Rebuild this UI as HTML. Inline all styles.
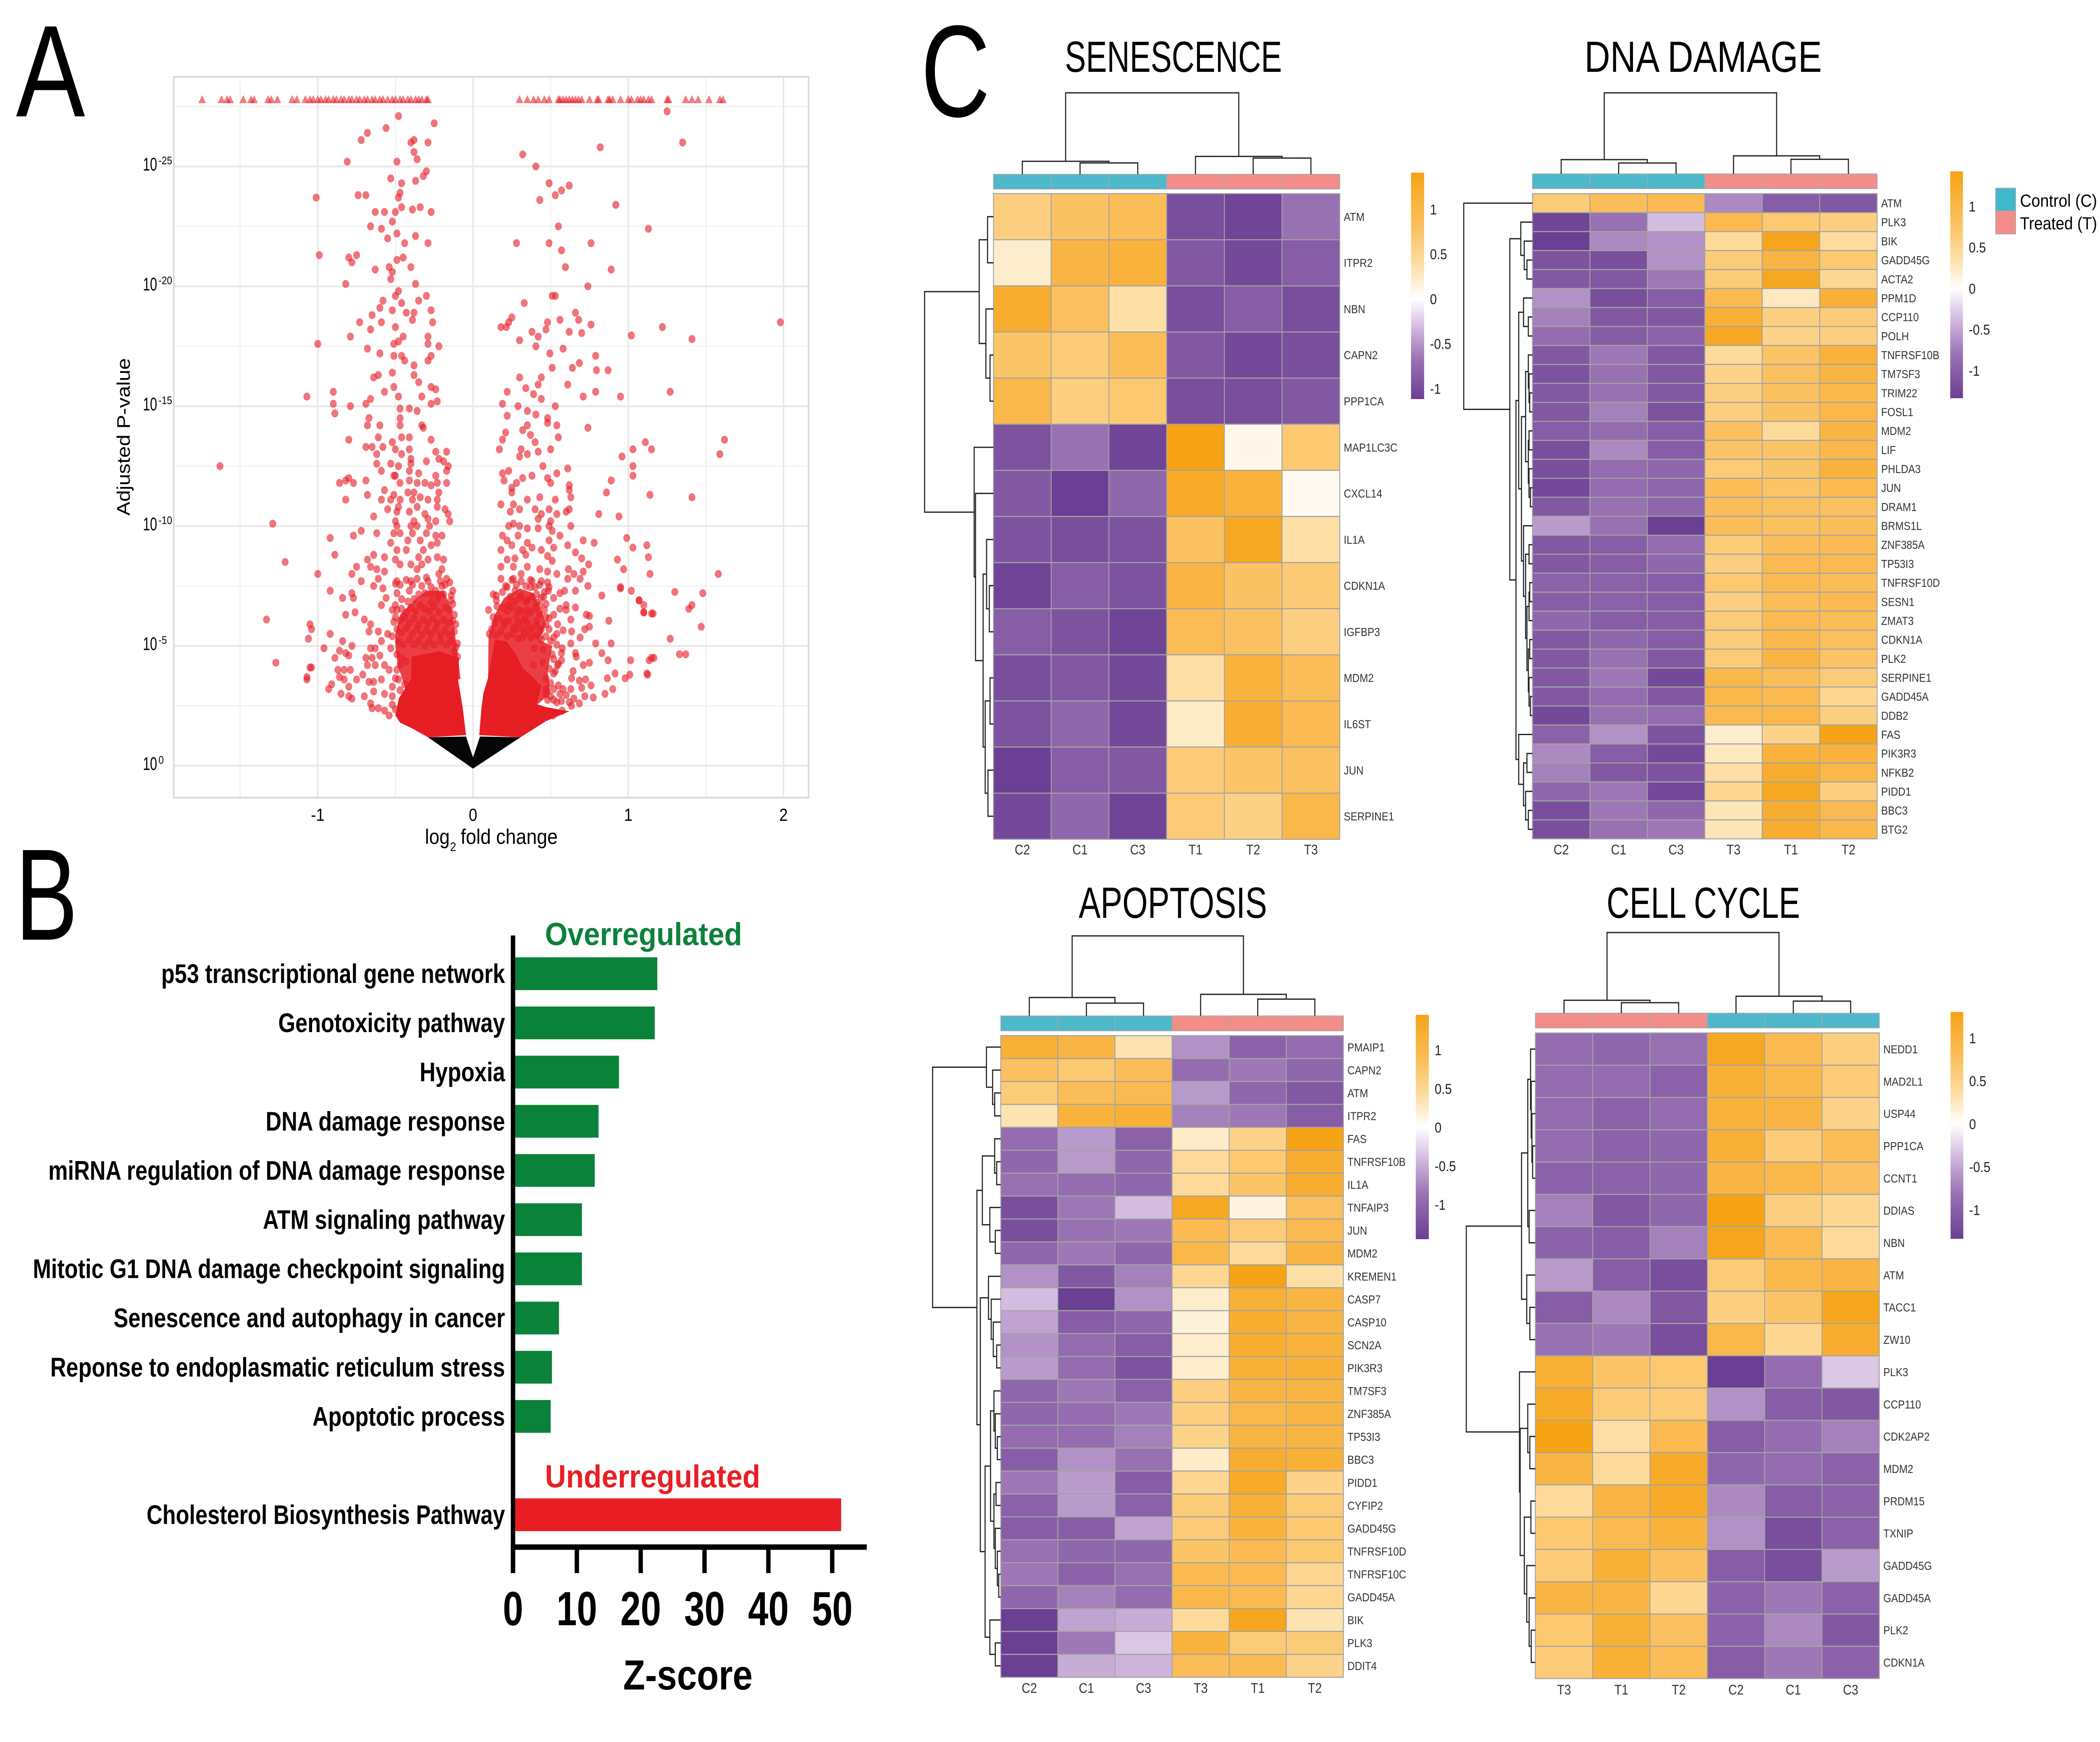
<!DOCTYPE html>
<html lang="en">
<head>
<meta charset="utf-8">
<title>Volcano plot, pathway Z-scores and gene heatmaps</title>
<style>
html,body{margin:0;padding:0;background:#fff;width:100%;height:100%;overflow:hidden}
svg#figure{display:block;width:100vw;height:100vh}
text{font-family:"Liberation Sans",sans-serif;fill:#000}
</style>
</head>
<body>
<svg id="figure" viewBox="0 0 5776 4147" preserveAspectRatio="none">
  <rect width="5776" height="4147" fill="#fff"/>
  <text x="44" y="277" font-size="311" textLength="190" lengthAdjust="spacingAndGlyphs">A</text>
  <text x="42" y="2237" font-size="310" textLength="172" lengthAdjust="spacingAndGlyphs">B</text>
  <text x="2533" y="277" font-size="311" textLength="190" lengthAdjust="spacingAndGlyphs">C</text>

  <g id="panel-a"></g>
  <text transform="translate(357,1040) rotate(-90)" text-anchor="middle" font-size="50" textLength="375" lengthAdjust="spacingAndGlyphs">Adjusted P-value</text>
  <text x="1169" y="2009" font-size="50" textLength="68" lengthAdjust="spacingAndGlyphs">log</text>
  <text x="1238" y="2026" font-size="30">2</text>
  <text x="1267" y="2009" font-size="50" textLength="267" lengthAdjust="spacingAndGlyphs">fold change</text>

  <g id="panel-b"></g>
  <text x="1499" y="2250" font-size="76" font-weight="700" style="fill:#0C8239" textLength="542" lengthAdjust="spacingAndGlyphs">Overregulated</text>
  <text x="1499" y="3541" font-size="76" font-weight="700" style="fill:#E81F25" textLength="592" lengthAdjust="spacingAndGlyphs">Underregulated</text>
  <text x="1714" y="4022" font-size="100" font-weight="700" textLength="356" lengthAdjust="spacingAndGlyphs">Z-score</text>

  <text x="2929" y="171" font-size="104" textLength="597" lengthAdjust="spacingAndGlyphs">SENESCENCE</text>
  <text x="4358" y="171" font-size="104" textLength="653" lengthAdjust="spacingAndGlyphs">DNA DAMAGE</text>
  <text x="2967" y="2185" font-size="104" textLength="518" lengthAdjust="spacingAndGlyphs">APOPTOSIS</text>
  <text x="4419" y="2185" font-size="104" textLength="532" lengthAdjust="spacingAndGlyphs">CELL CYCLE</text>

  <g id="panel-c"></g>

  <g>
    <rect x="5489" y="448" width="55" height="54" fill="#3FB8CC" stroke="#aaa" stroke-width="2"/>
    <rect x="5489" y="502" width="55" height="55" fill="#F28D8A" stroke="#aaa" stroke-width="2"/>
    <text x="5556" y="492" font-size="42" textLength="212" lengthAdjust="spacingAndGlyphs">Control (C)</text>
    <text x="5556" y="546" font-size="42" textLength="212" lengthAdjust="spacingAndGlyphs">Treated (T)</text>
  </g>
</svg>

<script>
/* ---------- Panel A: volcano data (log2 fold change, -log10 adjusted p) ---------- */
const volcanoXTicks = [-1, 0, 1, 2];
const volcanoXMinorTicks = [-1.5, -0.5, 0.5, 1.5];
const volcanoYTicks = [0, 5, 10, 15, 20, 25];
const volcanoYMinorTicks = [2.5, 7.5, 12.5, 17.5, 22.5, 27.5];
const saturatedLogP = 27.8;
const saturatedFC = [-1.745,-1.62,-1.585,-1.565,-1.48,-1.43,-1.41,-1.32,-1.30,-1.26,-1.165,-1.135,-1.08,-1.05,-1.03,-1.0,-.98,-.95,-.93,-.90,-.88,-.85,-.83,-.80,-.78,-.75,-.73,-.70,-.68,-.65,-.63,-.60,-.58,-.55,-.52,-.50,-.47,-.45,-.42,-.40,-.37,-.35,-.33,-.30,-.29,.30,.35,.39,.42,.46,.49,.55,.56,.58,.60,.62,.64,.66,.68,.70,.75,.80,.81,.87,.88,.90,.95,1.0,1.02,1.06,1.08,1.10,1.13,1.15,1.25,1.26,1.37,1.41,1.45,1.52,1.59,1.61];
const downPoints = [[-.48,27.1],[-.25,26.8],[-.56,26.6],[-.68,26.4],[-.72,26.1],[-.38,26.1],[-.40,26],[-.29,26],[-.38,25.6],[-.36,25.3],[-.81,25.2],[-.49,25.2],[-.30,24.8],[-.32,24.6],[-.53,24.5],[-.37,24.4],[-.46,24.3],[-.47,23.9],[-.74,23.8],[-.69,23.8],[-1.01,23.7],[-.48,23.7],[-.46,23.3],[-.50,23.1],[-.39,23.2],[-.34,23.3],[-.27,23.1],[-.63,23.1],[-.57,23.1],[-.52,22.7],[-.66,22.5],[-.59,22.4],[-.49,22.2],[-.55,22],[-.37,22.1],[-.44,21.8],[-.29,21.8],[-.99,21.3],[-.49,21.1],[-.45,21.2],[-.75,21.3],[-.80,21.2],[-.78,21],[-.40,20.8],[-.54,20.8],[-.63,20.7],[-.52,20.6],[-.53,20.3],[-.82,20.1],[-.37,20.1],[-.48,19.8],[-.50,19.6],[-.30,19.6],[-.58,19.4],[-.35,19.4],[-.46,19.3],[-.60,19.1],[-.52,19],[-.27,19],[-.43,18.9],[-.38,18.9],[-.65,18.8],[-.73,18.5],[-.59,18.5],[-.26,18.5],[-.39,18.6],[-.50,18.3],[-.66,18.2],[-.79,17.9],[-.45,17.9],[-.29,17.9],[-.48,17.7],[-1,17.6],[-.51,17.6],[-.29,17.6],[-.22,17.5],[-.68,17.4],[-.60,17.2],[-.51,17.1],[-.46,17.1],[-.27,17.1],[-.44,16.9],[-.38,16.7],[-.29,16.9],[-.52,16.4],[-.61,16.3],[-.64,16.2],[-.38,16.3],[-.35,16],[-.90,15.6],[-.57,15.6],[-.51,15.8],[-.27,15.8],[-.24,15.7],[-1.07,15.4],[-.48,15.4],[-.33,15.4],[-.23,15.2],[-.66,15.3],[-.90,15.1],[-.69,15.1],[-.27,15.1],[-.79,15],[-.89,14.7],[-.47,14.9],[-.41,14.9],[-.36,14.8],[-.67,14.5],[-.47,14.5],[-.33,14.2],[-1.63,12.5],[-1.29,10.1],[-1.21,8.5],[-1.33,6.1],[-1.27,4.3],[-1.07,3.7],[-1.05,4.1],
[-.80,13.6],[-.68,14.2],[-.60,14.2],[-.47,14.2],[-.32,14.1],[-.61,13.7],[-.46,13.7],[-.41,13.7],[-.27,13.6],[-.69,13.3],[-.65,13.3],[-.58,13.3],[-.52,13.5],[-.50,13.2],[-.62,13],[-.41,13.2],[-.24,13.1],[-.17,13.1],[-.46,13],[-.40,12.8],[-.22,12.8],[-.62,12.6],[-.53,12.6],[-.48,12.5],[-.40,12.6],[-.30,12.7],[-.19,12.7],[-.16,12.5],[-.59,12.3],[-.41,12.3],[-.35,12.2],[-.17,12.3],[-.51,12.1],[-.50,12.1],[-.24,12.1],[-.86,11.8],[-.82,11.9],[-.80,12],[-.77,11.8],[-.69,11.9],[-.47,11.8],[-.41,11.9],[-.36,11.8],[-.31,11.8],[-.27,11.7],[-.23,11.8],[-.17,11.8],[-.57,11.5],[-.42,11.4],[-.38,11.4],[-.22,11.4],[-.68,11.3],[-.51,11.3],[-.59,11.1],[-.82,11.1],[-.53,11.1],[-.47,11.1],[-.39,11.1],[-.34,11.2],[-.29,11.1],[-.23,11.1],[-.48,10.8],[-.55,10.7],[-.36,10.8],[-.23,10.8],[-.18,10.7],[-.49,10.6],[-.41,10.6],[-.31,10.5],[-.16,10.5],[-.64,10.4],[-.38,10.2],[-.29,10.3],[-.24,10.2],[-.15,10.2],[-.50,10.2],[-.49,10],[-.40,10],[-.36,10],[-.28,10],[-.72,9.8],[-.62,9.7],[-.92,9.5],[-.77,9.6],[-.51,9.7],[-.47,9.7],[-.39,9.7],[-.30,9.7],[-.24,9.6],[-.20,9.6],[-.42,9.4],[-.34,9.4],[-.53,9.3],[-.27,9.2],[-.23,9.3],[-.49,9],[-.43,9],[-.32,9],[-.89,8.8],[-.23,8.7],[-.68,8.6],[-.64,8.8],[-.57,8.7],[-.50,8.6],[-.35,8.7],[-.29,8.6],[-.19,8.6],[-.47,8.4],[-.40,8.4],[-.33,8.4],[-.75,8.3],[-.66,8.3],[-.20,8.2],[-1,8],[-.78,8],[-.62,8.2],[-.57,8.1],[-.36,8.2],[-.22,8],[-.72,7.7],[-.61,7.8],[-.49,7.7],[-.40,7.7],[-.29,7.7],[-.17,7.8],[-.64,7.5],[-.58,7.4],[-.20,7.5],[-.13,7.3],[-.92,7.3],[-.78,7.2],[-.49,7.2],[-.41,7.3],[-.84,7],[-.77,7],[-.56,7],[-.22,7.1],[-.14,6.9],[-.59,6.7],[-.50,6.7],[-.27,6.8],[-.76,6.4],[-.82,6.3],[-.52,6.5],[-.12,6.3],[-.70,6.1],[-.66,5.9],[-1.05,5.9],[-1.04,5.7],[-.51,6],[-.11,5.9],[-.61,5.6],[-.67,5.6],[-.92,5.5],[-.55,5.5],[-.52,5.4],[-1.06,5.3],[-.84,5.2],[-.59,5.2],[-.78,5],[-.96,4.9],[-.10,5.1],[-.66,4.9],[-.63,4.9],[-.53,4.9],[-.86,4.8],[-.82,4.7],[-.80,4.6],[-.89,4.5],[-.60,4.6],[-.65,4.5],[-.69,4.5],[-1.04,4.1],[-.87,4],[-.79,4],[-.83,4],[-.68,4.2],[-.63,4.2],[-.57,4.2],[-.54,4],[-.71,3.8],[-1.07,3.6],[-.86,3.7],[-.83,3.6],[-.75,3.6],[-.91,3.4],[-.67,3.5],[-.64,3.5],[-.59,3.6],[-.93,3.2],[-.80,3.3],[-.64,3.1],[-.57,3],[-.85,3],[-.80,2.9],[-.78,2.8],[-.70,2.9],[-.66,2.6],[-.65,2.4],[-.61,2.4],[-.57,2.3],[-.54,2.1],[-.52,2.9]];
const upPoints = [[1.25,27.3],[.82,25.8],[1.35,26],[.32,25.5],[.405,25],[.62,24.2],[.49,24.3],[.57,24],[.53,23.8],[.43,23.6],[.92,23.4],[.55,22.5],[1.13,22.4],[.28,21.8],[.49,21.8],[.76,21.8],[.57,21.5],[.595,20.8],[.89,20.7],[.74,20],[.51,19.6],[.53,19.6],[.33,19.3],[.66,18.9],[.25,18.7],[.23,18.5],[1.98,18.5],[.48,18.5],[.56,18.6],[.68,18.6],[.76,18.4],[1.22,18.3],[.18,18.3],[.215,18.3],[.38,18.1],[.47,18.2],[.62,18.1],[.70,18.05],[.42,17.9],[1.02,17.95],[1.41,17.8],[.30,17.75],[.405,17.5],[.58,17.4],[.495,17.2],[.79,17.1],[.685,16.8],[.64,16.6],[.51,16.6],[.795,16.5],[.87,16.5],[.30,16.2],[.44,16.2],[.42,15.9],[.61,15.9],[.34,15.75],[.22,15.6],[.79,15.6],[1.27,15.6],[.39,15.5],[.71,15.4],[.95,15.4],[.44,15.3],[.19,15.1],[.29,15],[.53,15],[.35,14.8],[.22,14.6],[.405,14.65],[.48,14.5],[1.62,13.6],[1.59,13],[1.41,11.2],[1.58,8],[1.48,7.2],[1.30,7.25],[1.41,6.7],[1.39,6.55],[1.47,5.8],[1.27,5.3],[1.33,4.65],[1.37,4.65],[1.165,4.5],[1.135,4.4],[1.12,3.85],[1.16,6.35],[1.10,6.4],[1.07,6.9],[.95,7.4],
[.35,14.2],[.32,14],[.48,14.3],[.54,14.2],[.74,14.1],[.21,13.9],[.37,13.8],[.55,13.7],[.19,13.6],[.40,13.5],[.17,13.2],[.31,13.2],[.50,13.2],[.42,13.1],[.35,13],[.30,12.9],[.96,12.9],[1.03,13.2],[1.11,13.5],[1.15,13.2],[1.03,12.5],[1.03,12.1],[.45,12.5],[.61,12.4],[.23,12.3],[.19,12.2],[.20,11.9],[.32,12],[.38,12.1],[.54,12.2],[.48,12],[.50,11.8],[.28,11.8],[.62,11.7],[.89,11.9],[.25,11.6],[.62,11.5],[.25,11.4],[.86,11.4],[1.14,11.3],[.35,11.1],[.43,11.2],[.53,11.1],[.63,11.2],[.18,10.9],[.26,10.9],[.30,10.7],[.40,10.7],[.49,10.7],[.62,10.7],[.24,10.6],[.60,10.6],[.81,10.5],[.94,10.4],[.54,10.5],[.44,10.5],[.42,10.3],[.50,10.2],[.26,10.1],[.63,10],[.23,10],[.30,10],[.35,9.9],[.49,10],[.42,9.9],[.51,9.8],[.19,9.6],[.29,9.6],[.56,9.6],[.99,9.5],[.71,9.4],[.22,9.4],[.49,9.4],[.78,9.3],[1.12,9.2],[.61,9.2],[.25,9.2],[.35,9.3],[.38,9.1],[1.03,9.1],[.52,9.1],[.18,9],[.32,9],[.44,9],[.66,8.9],[1.13,8.7],[.48,8.75],[.27,8.65],[.34,8.8],[.51,8.55],[.70,8.65],[.93,8.6],[.22,8.6],[.745,8.4],[.18,8.3],[.26,8.3],[.35,8.3],[.43,8.2],[.615,8.2],[.48,8.1],[.97,8.2],[.54,8],[.71,8.1],[.65,8],[1.14,8],[.18,7.8],[.31,8],[.26,7.8],[.69,7.8],[.61,7.8],[.38,7.7],[.44,7.7],[.48,7.65],[.74,7.5],[.95,7.45],[.21,7.5],[.27,7.3],[.37,7.45],[.485,7.3],[.59,7.3],[.56,7.2],[.66,7.3],[1.02,7.3],[.13,7.15],[.41,7.15],[.30,7],[.455,7.05],[.52,7],[.83,7.1],[.15,6.9],[.35,6.9],[1.07,6.9],[.155,6.65],[.60,6.7],[.66,6.6],[1.10,6.7],[.43,6.7],[.23,6.7],[.10,6.5],[.56,6.55],[.60,6.5],[.29,6.5],[.35,6.5],[1.10,6.4],[.52,6.3],[.13,6.2],[.73,6.3],[.75,6.25],[1.15,6.35],[.47,6.2],[.63,6.1],[.875,6.05],[.14,5.95],[.20,6],[.32,6.05],[.41,6.05],[.545,5.9],[.75,5.8],[.72,5.7],[.49,5.7],[.58,5.65],[.635,5.6],[.28,5.7],[.36,5.65],[.43,5.6],[.54,5.5],[.105,5.5],[.52,5.35],[.69,5.35],[.32,5.35],[.43,5.35],[.79,5.1],[.89,5.1],[.63,5.1],[.575,4.9],[.395,4.9],[.45,4.85],[.83,4.7],[.66,4.7],[.57,4.7],[.51,4.65],[.665,4.55],[1.15,4.5],[1.015,4.4],[.87,4.4],[.57,4.4],[.75,4.3],[.71,4.2],[.45,4.3],[.545,4.2],[.39,4.2],[.645,3.95],[.52,3.85],[.915,3.85],[1.125,3.8],[1.01,3.8],[.98,3.65],[.865,3.65],[.635,3.65],[.725,3.6],[.685,3.55],[.55,3.35],[.76,3.35],[.70,3.25],[.63,3.2],[.90,3.2],[.85,3],[.56,3],[.50,2.9],[.775,2.85],[.72,2.9],[.65,2.8],[.685,2.6],[.54,2.65],[.47,3],[.635,2.5],[.575,2.3],[.515,2.1]];
const downDensePoints = [[-.50,7.6],[-.47,7.55],[-.43,7.75],[-.39,7.55],[-.36,7.8],[-.33,7.5],[-.30,7.85],[-.27,7.45],[-.24,7.3],[-.21,7.7],[-.18,7.55],[-.15,7.65],[-.14,7.1],[-.19,7.15],[-.23,6.95],[-.27,7.15],[-.31,7.2],[-.35,7.15],[-.38,6.95],[-.42,6.85],[-.46,6.95],[-.49,6.5],[-.46,6.55],[-.43,6.4],[-.40,6.6],[-.37,6.45],[-.34,6.7],[-.31,6.55],[-.28,6.45],[-.25,6.65],[-.22,6.4],[-.18,6.6],[-.15,6.5],[-.13,6.75],[-.50,6.2],[-.47,6.05],[-.44,6.2],[-.41,5.95],[-.38,6.15],[-.35,5.9],[-.32,6.1],[-.29,5.95],[-.26,6.15],[-.23,5.95],[-.19,6.1],[-.16,5.95],[-.13,6.05],[-.49,5.7],[-.46,5.55],[-.43,5.75],[-.39,5.5],[-.36,5.7],[-.33,5.45],[-.30,5.65],[-.27,5.5],[-.24,5.7],[-.21,5.45],[-.18,5.65],[-.15,5.45],[-.12,5.6],[-.48,5.2],[-.45,5.05],[-.41,5.25],[-.38,5.05],[-.35,5.2],[-.31,5],[-.28,5.2],[-.25,5.05],[-.21,5.2],[-.17,5.05],[-.14,5.2],[-.11,4.95],[-.49,4.65],[-.46,4.5],[-.43,4.35],[-.12,4.75],[-.10,4.55],[-.48,3.6],[-.44,3.4],[-.52,3.3],[-.50,3.65],[-.47,3.15],[-.43,2.95],[-.52,2.55],[-.50,2.35],[-.47,4.2],[-.49,4]];
const upDensePoints = [[.15,7.1],[.19,7.25],[.22,7.45],[.25,7.75],[.28,7.55],[.31,7.7],[.34,7.5],[.37,7.75],[.40,7.45],[.43,7.55],[.46,7.25],[.49,7.45],[.24,7.05],[.27,6.85],[.31,7.1],[.34,6.85],[.38,7.05],[.41,6.8],[.44,7],[.47,6.75],[.19,6.6],[.22,6.45],[.25,6.6],[.28,6.25],[.31,6.45],[.34,6.2],[.37,6.4],[.40,6.55],[.43,6.3],[.46,6.5],[.49,6.15],[.17,6.15],[.20,5.85],[.23,6.05],[.26,5.75],[.29,5.95],[.32,5.7],[.35,5.95],[.38,5.75],[.41,5.85],[.44,5.7],[.47,5.9],[.12,5.7],[.15,5.45],[.18,5.6],[.22,5.4],[.25,5.5],[.29,5.3],[.33,5.5],[.37,5.35],[.40,5.45],[.44,5.25],[.47,5.4],[.50,5.2],[.54,5.05],[.52,4.45],[.55,4.25],[.49,4.05],[.53,3.95],[.47,3.65],[.50,3.45],[.52,3.2],[.58,3.2],[.47,3.2],[.60,2.95],[.52,2.75],[.57,2.7],[.48,2.75],[.62,2.65]];
const downDenseOutline = [[-.29,1.19],[-.395,1.57],[-.47,1.80],[-.50,2.10],[-.478,2.80],[-.40,3.62],[-.395,4.55],[-.216,4.78],[-.09,4.49],[-.097,3.62],[-.067,2.45],[-.045,1.28]];
const downMidOutline = [[-.50,5.5],[-.47,6.3],[-.38,6.9],[-.30,7.3],[-.19,7.3],[-.14,6.6],[-.12,5.7],[-.097,4.49],[-.08,3.62],[-.425,3.03],[-.485,4.2],[-.50,5]];
const upDenseOutline = [[.306,1.19],[.47,1.86],[.62,2.27],[.47,2.45],[.41,2.57],[.44,3.32],[.38,3.73],[.32,4.08],[.276,4.66],[.216,5.19],[.142,5.25],[.112,4.2],[.097,3.67],[.067,3.03],[.055,2.45],[.04,1.28]];
const upMidOutline = [[.10,5.4],[.14,6.3],[.2,7],[.3,7.4],[.39,7.2],[.44,6.5],[.47,5.9],[.42,5.25],[.51,5],[.48,3.91],[.5,3.03],[.395,2.45],[.097,3.67]];
const nonSignificantOutline = [[-.29,1.19],[-.045,1.22],[0,.35],[.045,1.22],[.306,1.19],[0,-.12]];

/* ---------- Panel B: pathway Z-scores ---------- */
const pathwayNames = ["p53 transcriptional gene network","Genotoxicity pathway","Hypoxia","DNA damage response","miRNA regulation of DNA damage response","ATM signaling pathway","Mitotic G1 DNA damage checkpoint signaling","Senescence and autophagy in cancer","Reponse to endoplasmatic reticulum stress","Apoptotic process"];
const pathwayZScores = [22.6,22.2,16.6,13.4,12.8,10.8,10.8,7.2,6.1,5.9];
const underPathwayNames = ["Cholesterol Biosynthesis Pathway"];
const underPathwayZScores = [51.4];
const zScoreTicks = [0,10,20,30,40,50];

/* ---------- Panel C: heatmaps ---------- */
const colorbarTicks = [1,0.5,0,-0.5,-1];

const senescenceColumns = ["C2","C1","C3","T1","T2","T3"];
const senescenceGenes = ["ATM","ITPR2","NBN","CAPN2","PPP1CA","MAP1LC3C","CXCL14","IL1A","CDKN1A","IGFBP3","MDM2","IL6ST","JUN","SERPINE1"];
const senescenceValues = [
[.55,.72,.8,-1.15,-1.25,-.8],[.2,.95,1,-1.05,-1.2,-1],[1.1,.75,.35,-1.15,-1,-1.15],[.7,.6,.8,-1.05,-1.2,-1.15],[.9,.55,.65,-1.15,-1.15,-1.05],
[-1.1,-.8,-1.25,1.3,.08,.65],[-1.05,-1.3,-.9,1.15,1,.06],[-1.1,-1.15,-1.1,.75,1.2,.35],[-1.25,-1,-1.1,.95,.72,.62],[-1,-1.1,-1.25,.82,.75,.55],
[-1.15,-1.05,-1.2,.35,1,.8],[-1.1,-.9,-1.2,.22,1.08,.85],[-1.3,-1,-1.05,.6,.7,.75],[-1.2,-.9,-1.25,.6,.52,.9]];
const senescenceColumnTree = [1,[.16,0,[.14,1,2]],[.22,3,[.2,4,5]]];
const senescenceRowTree = [1,[.207,[.086,0,1],[.11,2,[.05,3,4]]],[.28,5,[.26,6,[.15,[.1,7,[.06,8,9]],[.12,[.05,10,11],[.08,12,13]]]]]];

const dnaColumns = ["C2","C1","C3","T3","T1","T2"];
const dnaGenes = ["ATM","PLK3","BIK","GADD45G","ACTA2","PPM1D","CCP110","POLH","TNFRSF10B","TM7SF3","TRIM22","FOSL1","MDM2","LIF","PHLDA3","JUN","DRAM1","BRMS1L","ZNF385A","TP53I3","TNFRSF10D","SESN1","ZMAT3","CDKN1A","PLK2","SERPINE1","GADD45A","DDB2","FAS","PIK3R3","NFKB2","PIDD1","BBC3","BTG2"];
const dnaValues = [
[.6,.8,.85,-.65,-1,-1.05],[-1.25,-.8,-.35,.85,.65,.55],[-1.3,-.65,-.6,.4,1.25,.38],[-1.1,-1.15,-.6,.6,.95,.65],[-1.05,-1.05,-.75,.6,1.2,.45],[-.6,-1.15,-1,.85,.25,1.05],[-.7,-1.05,-1.05,1.05,.55,.6],[-.85,-1,-.95,1.2,.5,.55],[-1.05,-.75,-1.05,.4,.7,1],[-1.1,-.8,-1.05,.5,.75,.95],[-1.05,-.8,-1.05,.55,.75,.9],[-1.05,-.7,-1.1,.55,.72,.9],[-1,-.85,-1,.75,.4,.95],[-1.15,-.65,-1,.7,.7,.9],[-1.15,-.85,-.9,.6,.7,1],[-1.2,-.85,-.9,.8,.7,.85],[-1.05,-.8,-.9,.8,.75,.75],[-.55,-.8,-1.3,.8,.75,.8],[-1.05,-1,-.85,.6,.8,.85],[-1.05,-1,-.9,.55,.85,.85],[-.95,-.95,-1,.65,.85,.8],[-1,-.95,-1,.55,.8,.85],[-.9,-1,-1,.6,.85,.8],[-1.05,-.9,-1,.6,.9,.75],[-1.05,-.8,-1.05,.6,.95,.7],[-1.05,-.75,-1.2,.9,.8,.6],[-1.05,-.85,-1.05,.9,.85,.45],[-1.2,-.8,-.85,.85,.9,.55],[-.95,-.6,-1.1,.2,.5,1.35],[-.65,-1,-1.2,.25,1,1],[-.7,-1.05,-1.1,.35,1.1,.9],[-.9,-.75,-1.2,.45,1.2,.55],[-1.15,-.75,-.9,.28,1.1,.85],[-1.15,-.8,-.75,.28,1.1,.9]];
const dnaColumnTree = [1,[.176,0,[.135,1,2]],[.223,3,[.18,4,5]]];
const dnaRowTree = [1,0,[.33,[.17,1,[.12,2,[.08,3,4]]],[.24,[.2,[.13,5,[.06,6,7]],[.16,[.1,[.06,8,[.05,9,[.04,10,11]]],[.06,[.05,12,13],[.05,14,[.03,15,16]]]],[.13,17,[.1,[.05,18,19],[.08,[.05,[.04,20,21],22],[.06,[.04,23,24],[.05,25,[.03,26,27]]]]]]]],[.2,28,[.13,[.08,29,30],[.1,31,[.06,32,33]]]]]]];

const apoptosisColumns = ["C2","C1","C3","T3","T1","T2"];
const apoptosisGenes = ["PMAIP1","CAPN2","ATM","ITPR2","FAS","TNFRSF10B","IL1A","TNFAIP3","JUN","MDM2","KREMEN1","CASP7","CASP10","SCN2A","PIK3R3","TM7SF3","ZNF385A","TP53I3","BBC3","PIDD1","CYFIP2","GADD45G","TNFRSF10D","TNFRSF10C","GADD45A","BIK","PLK3","DDIT4"];
const apoptosisValues = [
[1.05,.95,.3,-.6,-.95,-.85],[.75,.65,.8,-.85,-.75,-.9],[.6,.8,.85,-.55,-.9,-1.05],[.3,1,1.05,-.7,-.75,-1],[-.85,-.55,-.95,.22,.5,1.3],[-.9,-.55,-.9,.4,.65,1.1],[-.8,-.85,-.9,.4,.7,1.1],[-1.15,-.75,-.35,1.2,.12,.75],[-1.15,-.8,-.75,.85,.6,.85],[-.9,-.75,-.9,.9,.4,.95],[-.6,-1.05,-.7,.45,1.3,.35],[-.35,-1.3,-.6,.2,1.05,.95],[-.5,-1,-.9,.14,1.1,.95],[-.6,-.85,-1,.2,1.1,1],[-.55,-.85,-1.1,.2,1.05,1.05],[-.9,-.75,-.95,.55,.95,.95],[-.9,-.85,-.75,.55,.9,.95],[-.85,-.85,-.7,.5,.95,.95],[-1,-.6,-.8,.22,1.1,1.05],[-.75,-.55,-1,.45,1.15,.5],[-.95,-.55,-.95,.6,1.05,.6],[-1,-1,-.5,.6,1,.65],[-.8,-.9,-.9,.7,.85,.65],[-.75,-.95,-.8,.85,.85,.45],[-.9,-.7,-.85,.9,.85,.45],[-1.3,-.5,-.45,.4,1.25,.3],[-1.3,-.75,-.3,1,.6,.6],[-1.3,-.45,-.4,.8,.85,.5]];
const apoptosisColumnTree = [1,[.23,0,[.16,1,2]],[.27,3,[.21,4,5]]];
const apoptosisRowTree = [1,[.21,0,[.12,1,[.09,2,3]]],[.35,[.27,[.09,4,[.06,5,6]],[.16,7,[.08,8,9]]],[.3,[.18,10,[.14,11,[.11,12,[.06,13,14]]]],[.23,[.15,[.1,15,[.08,16,[.05,17,18]]],[.1,[.07,19,20],[.08,21,[.05,22,[.03,23,24]]]]],[.16,25,[.08,26,27]]]]]];

const cellCycleColumns = ["T3","T1","T2","C2","C1","C3"];
const cellCycleGenes = ["NEDD1","MAD2L1","USP44","PPP1CA","CCNT1","DDIAS","NBN","ATM","TACC1","ZW10","PLK3","CCP110","CDK2AP2","MDM2","PRDM15","TXNIP","GADD45G","GADD45A","PLK2","CDKN1A"];
const cellCycleValues = [
[-.85,-.9,-.8,1.2,.85,.55],[-.85,-.85,-.95,1.05,.9,.6],[-.85,-.95,-.85,1,.95,.5],[-.85,-.95,-.9,1.05,.6,.8],[-.95,-.95,-.9,.95,.9,.75],[-.7,-1.05,-.9,1.3,.55,.45],[-.95,-1,-.7,1.25,.85,.4],[-.55,-1,-1.15,.6,.9,.95],[-1,-.65,-1.05,.55,.7,1.25],[-.8,-.75,-1.15,.9,.45,1.1],
[1.05,.7,.65,-1.3,-.85,-.3],[1.15,.6,.6,-.6,-1,-1.05],[1.3,.35,.85,-1,-.85,-.7],[.95,.4,1.15,-.9,-.85,-.95],[.4,.95,1.15,-.65,-1,-.95],[.65,.85,1,-.6,-1.15,-.95],[.6,1.05,.75,-1,-1.15,-.55],[.95,.95,.45,-.95,-.75,-.95],[.65,1.05,.75,-.95,-.65,-1.05],[.6,1.05,.8,-1,-.75,-.95]];
const cellCycleColumnTree = [1,[.16,0,[.13,1,2]],[.21,3,[.15,4,5]]];
const cellCycleRowTree = [1,[.2,[.11,[.07,0,[.06,1,[.05,2,[.04,3,4]]]],[.09,5,6]],[.125,7,[.08,8,9]]],[.23,10,[.22,[.11,11,[.08,12,13]],[.16,[.065,14,15],[.125,16,[.09,17,[.06,18,19]]]]]]];

/* ---------- drawing ---------- */
const SVG_NS = 'http://www.w3.org/2000/svg';
function make(tag, attrs, parent) {
  const node = document.createElementNS(SVG_NS, tag);
  for (const key in attrs) node.setAttribute(key, attrs[key]);
  parent.appendChild(node);
  return node;
}
function label(parent, str, x, y, size, extra) {
  const node = make('text', Object.assign({x: x, y: y, 'font-size': size}, extra || {}), parent);
  node.textContent = str;
  return node;
}

/* Panel A */
(function () {
  const root = document.getElementById('panel-a');
  const fx = v => 1301 + 427 * v;
  const fy = v => 1823 - 57.07 * v;
  const left = 478, right = 2224, top = 183, bottom = 1899;
  const poly = list => list.map(q => fx(q[0]).toFixed(1) + ',' + fy(q[1]).toFixed(1)).join(' ');

  volcanoXMinorTicks.forEach(t => {
    const el = make('line', {x1: fx(t), x2: fx(t), y1: top, y2: bottom, stroke: '#EFEFEF', 'stroke-width': 3}, root);
    
    
  });
  volcanoYMinorTicks.forEach(t => {
    const el = make('line', {x1: left, x2: right, y1: fy(t), y2: fy(t), stroke: '#F1F1F1', 'stroke-width': 3}, root);
    
    
  });
  volcanoXTicks.forEach(t => {
    const el = make('line', {x1: fx(t), x2: fx(t), y1: top, y2: bottom, stroke: '#E6E6E6', 'stroke-width': 4}, root);
    
    
    const tick = label(root, String(t), fx(t), 1954, 42, {'text-anchor': 'middle'});
    
    
  });
  volcanoYTicks.forEach(t => {
    const el = make('line', {x1: left, x2: right, y1: fy(t), y2: fy(t), stroke: '#EAEAEA', 'stroke-width': 5}, root);
    
    
    const base = label(root, '10', 393, fy(t) + 10, 44, {textLength: 39, lengthAdjust: 'spacingAndGlyphs'});
    
    
    const sup = label(root, t === 0 ? '0' : '-' + t, 436, fy(t) - 5, 26);
    
    
  });
  const frame = make('rect', {x: left, y: top, width: right - left, height: bottom - top, fill: 'none', stroke: '#D8D8D8', 'stroke-width': 4}, root);
  
  

  const midDown = make('polygon', {points: poly(downMidOutline), fill: '#E71D24', 'fill-opacity': 0.85}, root);
  
  
  const midUp = make('polygon', {points: poly(upMidOutline), fill: '#E71D24', 'fill-opacity': 0.85}, root);
  
  
  const denseDown = make('polygon', {points: poly(downDenseOutline), fill: '#E71D24'}, root);
  
  
  const denseUp = make('polygon', {points: poly(upDenseOutline), fill: '#E71D24'}, root);
  
  

  function dot(fc, p, name) {
    const el = make('circle', {cx: fx(fc).toFixed(1), cy: fy(p).toFixed(1), r: 9.5, fill: '#E61E28', 'fill-opacity': 0.62}, root);
    
    
  }
  downPoints.forEach(q => dot(q[0], q[1], 'downregulated-gene-point'));
  upPoints.forEach(q => dot(q[0], q[1], 'upregulated-gene-point'));
  downDensePoints.forEach(q => dot(q[0], q[1], 'downregulated-gene-point'));
  upDensePoints.forEach(q => dot(q[0], q[1], 'upregulated-gene-point'));

  saturatedFC.forEach(fc => {
    const cx = fx(fc), cy = fy(saturatedLogP);
    const el = make('polygon', {points: (cx - 10.5) + ',' + (cy + 9) + ' ' + (cx + 10.5) + ',' + (cy + 9) + ' ' + cx + ',' + (cy - 10), fill: '#E61E28', 'fill-opacity': 0.58}, root);
    
    
  });
  const black = make('polygon', {points: poly(nonSignificantOutline), fill: '#060606'}, root);
  
  
})();

/* Panel B */
(function () {
  const root = document.getElementById('panel-b');
  const fx = v => 1411 + 17.56 * v;
  const rowY = i => 2318 + 117.1 * i;
  function addRow(name, value, cy, color) {
    const bar = make('rect', {x: fx(0), y: cy - 39, width: fx(value) - fx(0), height: 78, fill: color}, root);
    
    
    const text = make('text', {transform: 'translate(1389,' + (cy + 22) + ') scale(.943,1)', 'text-anchor': 'end', 'font-size': 64, 'font-weight': 700}, root);
    text.textContent = name;
    
    
  }
  pathwayNames.forEach((n, i) => addRow(n, pathwayZScores[i], rowY(i), '#0B8239'));
  underPathwayNames.forEach((n, i) => addRow(n, underPathwayZScores[i], 3606 + 117.1 * i, '#E91E24'));

  const yAxis = make('line', {x1: fx(0), x2: fx(0), y1: 2227, y2: 3745, stroke: '#000', 'stroke-width': 12}, root);
  
  
  const xAxis = make('line', {x1: fx(0) - 6, x2: 2384, y1: 3683, y2: 3683, stroke: '#000', 'stroke-width': 13}, root);
  
  
  zScoreTicks.forEach(t => {
    const tick = make('line', {x1: fx(t), x2: fx(t), y1: 3683, y2: 3745, stroke: '#000', 'stroke-width': 12}, root);
    
    
    const str = String(t);
    const text = label(root, str, fx(t), 3869, 114, {'text-anchor': 'middle', 'font-weight': 700, textLength: str.length * 56, lengthAdjust: 'spacingAndGlyphs'});
    
    
  });
})();

/* Panel C */
const ramp = {
  pos: [[0, [255,255,255]], [.3, [253,219,155]], [.6, [251,190,90]], [1, [246,163,21]]],
  neg: [[0, [255,255,255]], [.3, [207,182,220]], [.6, [154,115,179]], [1, [107,63,148]]]
};
function rampColor(t, stops) {
  t = Math.min(1, Math.max(0, t));
  for (let i = 1; i < stops.length; i++) {
    if (t <= stops[i][0]) {
      const a = stops[i - 1], b = stops[i], k = (t - a[0]) / (b[0] - a[0]);
      return 'rgb(' + a[1].map((c, j) => Math.round(c + (b[1][j] - c) * k)).join(',') + ')';
    }
  }
  return 'rgb(' + stops[stops.length - 1][1].join(',') + ')';
}
function cellColor(v) {
  return v >= 0 ? rampColor(v / 1.3, ramp.pos) : rampColor(-v / 1.3, ramp.neg);
}
let gradientCount = 0;
function drawHeatmap(cfg, columns, genes, values, columnTree, rowTree) {
  const svg = document.getElementById('panel-c');
  const g = make('g', {}, svg);
  
  
  const cw = (cfg.right - cfg.left) / columns.length;
  const ch = (cfg.bottom - cfg.top) / genes.length;

  values.forEach((row, r) => row.forEach((v, c) => {
    const cell = make('rect', {x: cfg.left + c * cw, y: cfg.top + r * ch, width: cw, height: ch, fill: cellColor(v), stroke: '#A3A3A3', 'stroke-width': 2.5}, g);
    
    
  }));
  genes.forEach((gene, r) => {
    const text = label(g, gene, cfg.right + 11, cfg.top + (r + .5) * ch + 10, 28, {style: 'fill:#333'});
    
    
  });
  columns.forEach((col, c) => {
    const text = label(g, col, cfg.left + (c + .5) * cw, cfg.colLabelY, 33, {'text-anchor': 'middle', style: 'fill:#333'});
    
    
    const ann = make('rect', {x: cfg.left + c * cw, y: cfg.annTop, width: cw, height: cfg.annBottom - cfg.annTop, fill: col[0] === 'C' ? '#4DB9CA' : '#F28D8A', stroke: '#A8A8A8', 'stroke-width': 2}, g);
    
    
  });

  /* column dendrogram */
  let d = '';
  const colSpan = cfg.annTop - cfg.rootY;
  (function walk(n) {
    if (typeof n === 'number') return {p: cfg.left + (n + .5) * cw, y: cfg.annTop};
    const a = walk(n[1]), b = walk(n[2]);
    const y = cfg.annTop - n[0] * colSpan;
    d += 'M' + a.p + ' ' + a.y + 'V' + y + 'H' + b.p + 'V' + b.y;
    return {p: (a.p + b.p) / 2, y: y};
  })(columnTree);
  const colDendro = make('path', {d: d, fill: 'none', stroke: '#222', 'stroke-width': 3}, g);
  
  

  /* row dendrogram */
  d = '';
  const rowSpan = cfg.left - cfg.rootX;
  (function walk(n) {
    if (typeof n === 'number') return {p: cfg.top + (n + .5) * ch, x: cfg.left};
    const a = walk(n[1]), b = walk(n[2]);
    const x = cfg.left - n[0] * rowSpan;
    d += 'M' + a.x + ' ' + a.p + 'H' + x + 'V' + b.p + 'H' + b.x;
    return {p: (a.p + b.p) / 2, x: x};
  })(rowTree);
  const rowDendro = make('path', {d: d, fill: 'none', stroke: '#222', 'stroke-width': 3}, g);
  
  

  /* colour bar */
  const id = 'bar-gradient-' + (gradientCount++);
  const grad = make('linearGradient', {id: id, x1: 0, x2: 0, y1: 0, y2: 1}, g);
  const h = cfg.barBottom - cfg.barTop;
  const zeroOffset = (cfg.barZero - cfg.barTop) / h;
  ramp.pos.slice().reverse().forEach(s => {
    make('stop', {offset: zeroOffset * (1 - s[0]), 'stop-color': 'rgb(' + s[1].join(',') + ')'}, grad);
  });
  ramp.neg.slice(1).forEach(s => {
    make('stop', {offset: zeroOffset + (1 - zeroOffset) * s[0], 'stop-color': 'rgb(' + s[1].join(',') + ')'}, grad);
  });
  const bar = make('rect', {x: cfg.barLeft, y: cfg.barTop, width: cfg.barWidth, height: h, fill: 'url(#' + id + ')'}, g);
  
  
  colorbarTicks.forEach(t => {
    const y = cfg.barZero - t * cfg.barUnit;
    const text = label(g, String(t), cfg.barLeft + cfg.barWidth + 16, y + 12, 34, {style: 'fill:#222'});
    
    
  });
}

drawHeatmap({name: 'senescence', left: 2732.5, right: 3685, top: 461, bottom: 1998, annTop: 415, annBottom: 450, rootY: 221, rootX: 2543, colLabelY: 2034, barLeft: 3881, barWidth: 36, barTop: 411, barBottom: 950, barZero: 712, barUnit: 213.5},
  senescenceColumns, senescenceGenes, senescenceValues, senescenceColumnTree, senescenceRowTree);
drawHeatmap({name: 'dna-damage', left: 4215, right: 5163, top: 461, bottom: 1997, annTop: 414, annBottom: 449, rootY: 221, rootX: 4026, colLabelY: 2034, barLeft: 5364, barWidth: 35, barTop: 408, barBottom: 948, barZero: 687, barUnit: 195.5},
  dnaColumns, dnaGenes, dnaValues, dnaColumnTree, dnaRowTree);
drawHeatmap({name: 'apoptosis', left: 2752.6, right: 3695, top: 2465.5, bottom: 3993, annTop: 2418.5, annBottom: 2454, rootY: 2228, rootX: 2565, colLabelY: 4030, barLeft: 3894, barWidth: 36, barTop: 2416, barBottom: 2950, barZero: 2684, barUnit: 184},
  apoptosisColumns, apoptosisGenes, apoptosisValues, apoptosisColumnTree, apoptosisRowTree);
drawHeatmap({name: 'cell-cycle', left: 4223, right: 5169, top: 2459, bottom: 3996, annTop: 2412, annBottom: 2447, rootY: 2220, rootX: 4033, colLabelY: 4034, barLeft: 5365, barWidth: 35, barTop: 2409, barBottom: 2949, barZero: 2676, barUnit: 204.5},
  cellCycleColumns, cellCycleGenes, cellCycleValues, cellCycleColumnTree, cellCycleRowTree);
</script>
</body>
</html>
